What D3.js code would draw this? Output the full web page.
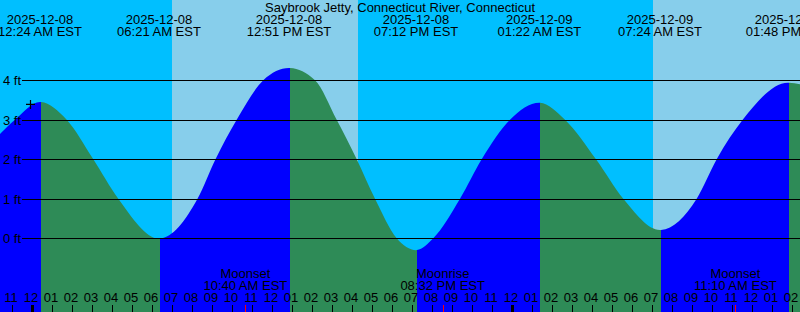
<!DOCTYPE html>
<html><head><meta charset="utf-8">
<script src="https://cdn.jsdelivr.net/npm/d3@7"></script>
<style>
html,body{margin:0;padding:0;background:#fff;}
svg{display:block;}
text{font-family:"Liberation Sans",Arial,sans-serif;font-size:13px;fill:#000;}
</style></head>
<body>
<svg id="chart" width="800" height="312"></svg>
<script>
// ---- data (hours since 2025-12-08 00:00 EST) ----
const title = "Saybrook Jetty, Connecticut River, Connecticut";
const timeDomain = [-1.6, 38.4];
const curveHours   = [-1.6, -0.85, 0.4, 1.735, 3.065, 4.315, 6.35, 8.275, 9.175, 10.235, 11.565, 12.85, 14.15, 15.235, 16.235, 17.15, 18.235, 19.2, 20.065, 21.4, 22.485, 23.9, 25.367, 26.65, 28.2, 29.565, 31.4, 33.235, 34.235, 35.535, 37.8, 38.4];
const curveHeights = [2.64, 3.0, 3.45, 3.0, 2.0, 1.0, -0.01, 1.0, 2.0, 3.0, 4.0, 4.31, 4.0, 3.0, 2.0, 1.0, 0.0, -0.30, 0.0, 1.0, 2.0, 3.0, 3.43, 3.0, 2.0, 1.0, 0.21, 1.0, 2.0, 3.0, 3.94, 3.90];
const eventHours = [0.4, 6.35, 12.85, 19.2, 25.367, 31.4, 37.8];
const eventDates = ["2025-12-08","2025-12-08","2025-12-08","2025-12-08","2025-12-09","2025-12-09","2025-12-09"];
const eventTimes = ["12:24 AM EST","06:21 AM EST","12:51 PM EST","07:12 PM EST","01:22 AM EST","07:24 AM EST","01:48 PM EST"];
const dayStarts = [6.99, 31.03];
const dayEnds   = [16.285, 40];
const moonHours = [10.667, 20.533, 35.167];
const moonNames = ["Moonset","Moonrise","Moonset"];
const moonTimes = ["10:40 AM EST","08:32 PM EST","11:10 AM EST"];
const hourTicks = d3.range(-1, 39);
const hourLabels = ["11",
  "12","01","02","03","04","05","06","07","08","09","10","11",
  "12","01","02","03","04","05","06","07","08","09","10","11",
  "12","01","02","03","04","05","06","07","08","09","10","11",
  "12","01","02"];
const midnightHours = [0, 24];
const ftTicks = [0, 1, 2, 3, 4];
const ftLabels = ["0 ft","1 ft","2 ft","3 ft","4 ft"];
const markHour = -0.075, markHeight = 3.39;

// ---- drawing ----
const W = 800, H = 312;
const svg = d3.select("#chart");
const x = d3.scaleLinear().domain(timeDomain).range([0, W]);
const y = d3.scaleLinear().domain([0, 4]).range([238.3, 80.3]);
const NIGHT = "#00BFFF", DAY = "#87CEEB", RISE = "#0000FF", FALL = "#2E8B57";

svg.append("rect").attr("width", W).attr("height", H).attr("fill", NIGHT);
svg.selectAll("rect.day").data(dayStarts).join("rect").attr("class","day")
  .attr("x", d => Math.round(x(d)))
  .attr("width", (d,i) => Math.round(x(dayEnds[i])) - Math.round(x(d)))
  .attr("y", 0).attr("height", H).attr("fill", DAY).attr("shape-rendering","crispEdges");

// segments between extrema: rising or falling
const bounds = [timeDomain[0], ...eventHours, timeDomain[1]];
const segs = [];
for (let i = 0; i < bounds.length - 1; i++) {
  const hA = curveHeights[curveHours.indexOf(bounds[i])];
  const hB = curveHeights[curveHours.indexOf(bounds[i+1])];
  segs.push({a: bounds[i], b: bounds[i+1], rising: hB > hA});
}
const defs = svg.append("defs");
segs.forEach((s, i) => {
  const x0 = i === 0 ? 0 : Math.round(x(s.a)) + 1;
  const x1 = i === segs.length - 1 ? W : Math.round(x(s.b)) + 1;
  defs.append("clipPath").attr("id", "seg" + i).append("rect")
    .attr("x", x0).attr("y", 0).attr("width", x1 - x0).attr("height", H);
});
const pts = curveHours.map((h, i) => [h, curveHeights[i]]);
const area = d3.area().x(d => x(d[0])).y0(H).y1(d => y(d[1])).curve(d3.curveMonotoneX);
segs.forEach((s, i) => {
  svg.append("path").datum(pts).attr("d", area)
    .attr("fill", s.rising ? RISE : FALL).attr("clip-path", `url(#seg${i})`);
});

// gridlines + labels
svg.selectAll("line.grid").data(ftTicks).join("line").attr("class","grid")
  .attr("x1", 22).attr("x2", W)
  .attr("y1", d => Math.round(y(d)) + 0.5).attr("y2", d => Math.round(y(d)) + 0.5)
  .attr("stroke", "#000").attr("stroke-width", 1);
svg.selectAll("text.ft").data(ftTicks).join("text").attr("class","ft")
  .attr("x", 3).attr("y", d => Math.round(y(d)) + 5).text((d,i) => ftLabels[i]);

// mark
const mx = x(markHour), my = y(markHeight);
svg.append("path").attr("d", `M${mx-4.5},${my}H${mx+4.5}M${mx},${my-4.5}V${my+4.5}`)
  .attr("stroke", "#000").attr("stroke-width", 1.2);

// title and event labels
svg.append("text").attr("x", W/2).attr("y", 12).attr("text-anchor","middle").text(title);
const ev = svg.selectAll("g.ev").data(eventHours).join("g").attr("class","ev");
ev.append("text").attr("x", d => x(d)).attr("y", 24).attr("text-anchor","middle").text((d,i) => eventDates[i]);
ev.append("text").attr("x", d => x(d)).attr("y", 36).attr("text-anchor","middle").text((d,i) => eventTimes[i]);

// moon labels
const mg = svg.selectAll("g.moon").data(moonHours).join("g").attr("class","moon");
mg.append("text").attr("x", d => x(d)).attr("y", 278).attr("text-anchor","middle").text((d,i) => moonNames[i]);
mg.append("text").attr("x", d => x(d)).attr("y", 290).attr("text-anchor","middle").text((d,i) => moonTimes[i]);

// hour labels and ticks
svg.selectAll("text.hr").data(hourTicks).join("text").attr("class","hr")
  .attr("x", d => x(d) - 1).attr("y", 302).attr("text-anchor","middle").text((d,i) => hourLabels[i]);
svg.selectAll("line.hr").data(hourTicks).join("line").attr("class","hr")
  .attr("x1", d => Math.round(x(d)) + 0.5).attr("x2", d => Math.round(x(d)) + 0.5)
  .attr("y1", 305).attr("y2", H).attr("stroke", "#000").attr("stroke-width", 1);
svg.selectAll("rect.mid").data(midnightHours).join("rect").attr("class","mid")
  .attr("x", d => Math.round(x(d)) - 1).attr("width", 3).attr("y", 305).attr("height", 7).attr("fill", "#000");
svg.selectAll("line.moon").data(moonHours).join("line").attr("class","moon")
  .attr("x1", d => Math.round(x(d)) + 0.5).attr("x2", d => Math.round(x(d)) + 0.5)
  .attr("y1", 305).attr("y2", H).attr("stroke", "#FF0000").attr("stroke-width", 1);
</script>
</body></html>
